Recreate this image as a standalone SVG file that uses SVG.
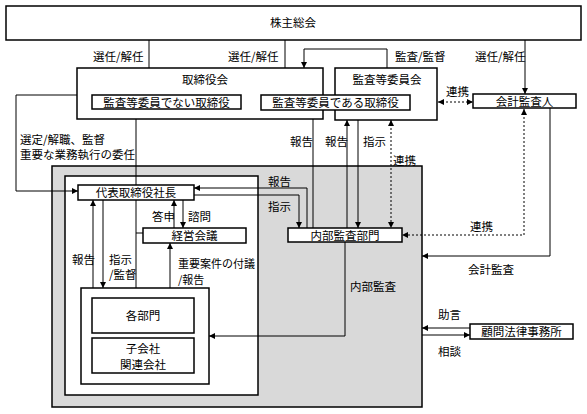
<svg xmlns="http://www.w3.org/2000/svg" width="587" height="414" viewBox="0 0 587 414">
<style>
text{font-family:"Noto Sans CJK JP","Noto Sans",sans-serif;font-size:11.5px;fill:#000}
.c{text-anchor:middle}
.box{fill:#fff;stroke:#000;stroke-width:1.5}
.ln{fill:none;stroke:#000;stroke-width:1}
.dot{fill:none;stroke:#000;stroke-width:1;stroke-dasharray:2,2}
</style>
<defs>
<marker id="ah" viewBox="0 0 10 10" refX="10" refY="5" markerWidth="6" markerHeight="6" markerUnits="userSpaceOnUse" orient="auto-start-reverse">
<path d="M0,0 L10,5 L0,10 z" fill="#000"/>
</marker>
</defs>
<rect x="52" y="166" width="370" height="241" fill="#d9d9d9" stroke="#000" stroke-width="1.5"/>
<rect x="65" y="176" width="193" height="219" fill="#fff" stroke="#000" stroke-width="1.5"/>
<g id="connectors">
<path class="ln" d="M149,40 V95" marker-end="url(#ah)"/>
<path class="ln" d="M285,40 V95" marker-end="url(#ah)"/>
<path class="ln" d="M525,40 V94" marker-end="url(#ah)"/>
<path class="ln" d="M387,68 V49 H304 V68" marker-end="url(#ah)"/>
<path class="dot" d="M438,102 H473" marker-start="url(#ah)" marker-end="url(#ah)"/>
<path class="dot" d="M524,109 V235 H402" marker-start="url(#ah)" marker-end="url(#ah)"/>
<path class="ln" d="M550,108 V256 H422" marker-end="url(#ah)"/>
<path class="ln" d="M77,95 H16 V191 H78" marker-end="url(#ah)"/>
<path class="ln" d="M136,119 V288 M136,233 H143"/>
<path class="ln" d="M313,228 V110" marker-end="url(#ah)"/>
<path class="ln" d="M347,228 V120" marker-end="url(#ah)"/>
<path class="ln" d="M358,120 V228" marker-end="url(#ah)"/>
<path class="dot" d="M391,120 V228" marker-start="url(#ah)" marker-end="url(#ah)"/>
<path class="ln" d="M307,228 V188 H194" marker-end="url(#ah)"/>
<path class="ln" d="M194,195 H299 V228" marker-end="url(#ah)"/>
<path class="ln" d="M174,228 V200" marker-end="url(#ah)"/>
<path class="ln" d="M183,200 V228" marker-end="url(#ah)"/>
<path class="ln" d="M93,288 V200" marker-end="url(#ah)"/>
<path class="ln" d="M103,200 V288" marker-end="url(#ah)"/>
<path class="ln" d="M170,288 V243" marker-end="url(#ah)"/>
<path class="ln" d="M345,242 V336 H209" marker-end="url(#ah)"/>
<path class="ln" d="M470,328 H422" marker-end="url(#ah)"/>
<path class="ln" d="M422,335 H470" marker-end="url(#ah)"/>
</g>
<g id="n-shareholders"><rect class="box" x="6" y="6" width="575" height="34"/><text class="c" x="293" y="27">株主総会</text></g>
<g id="n-board"><rect class="box" x="77" y="68" width="246" height="51"/><text class="c" x="205" y="84">取締役会</text></g>
<g id="n-auditcommittee"><rect class="box" x="335" y="68" width="102" height="52"/><text class="c" x="387" y="84">監査等委員会</text></g>
<g id="n-nonaudit"><rect class="box" x="92" y="95" width="149" height="14"/><text class="c" x="166.5" y="106.5">監査等委員でない取締役</text></g>
<g id="n-auditdir"><rect class="box" x="261" y="95" width="149" height="15"/><text class="c" x="335.5" y="107">監査等委員である取締役</text></g>
<g id="n-accountant"><rect class="box" x="473" y="94" width="103" height="14"/><text class="c" x="524.5" y="105.5">会計監査人</text></g>
<g id="n-president"><rect class="box" x="78" y="185" width="116" height="15"/><text class="c" x="136" y="197">代表取締役社長</text></g>
<g id="n-mgmt"><rect class="box" x="143" y="228" width="103" height="15"/><text class="c" x="194.5" y="240">経営会議</text></g>
<g id="n-internalaudit"><rect class="box" x="288" y="228" width="114" height="14"/><text class="c" x="345" y="239.5">内部監査部門</text></g>
<g id="n-group"><rect class="box" x="81" y="288" width="128" height="96"/>
<g id="n-depts"><rect class="box" x="92" y="298" width="102" height="35"/><text class="c" x="143" y="320">各部門</text></g>
<g id="n-subs"><rect class="box" x="92" y="338" width="102" height="35"/><text class="c" x="143" y="353">子会社</text><text class="c" x="143" y="369">関連会社</text></g>
</g>
<g id="n-law"><rect class="box" x="470" y="324" width="103" height="15"/><text class="c" x="521.5" y="336">顧問法律事務所</text></g>
<g id="labels">
<text x="93" y="61">選任/解任</text>
<text x="228" y="61">選任/解任</text>
<text x="395" y="61">監査/監督</text>
<text x="475" y="61">選任/解任</text>
<text x="446" y="96">連携</text>
<text x="20" y="144">選定/解職、監督</text>
<text x="20" y="159">重要な業務執行の委任</text>
<text x="290" y="146">報告</text>
<text x="325" y="146">報告</text>
<text x="363" y="146">指示</text>
<text x="393" y="165">連携</text>
<text x="268" y="186">報告</text>
<text x="268" y="211">指示</text>
<text x="152" y="221">答申</text>
<text x="188" y="221">諮問</text>
<text x="470" y="231">連携</text>
<text x="468" y="274">会計監査</text>
<text x="72" y="264">報告</text>
<text x="109" y="264">指示</text>
<text x="109" y="279">/監督</text>
<text x="178" y="268" style="font-size:11px">重要案件の付議</text>
<text x="178" y="284" style="font-size:11px">/報告</text>
<text x="350" y="291">内部監査</text>
<text x="438" y="319">助言</text>
<text x="438" y="356">相談</text>
</g>
</svg>
